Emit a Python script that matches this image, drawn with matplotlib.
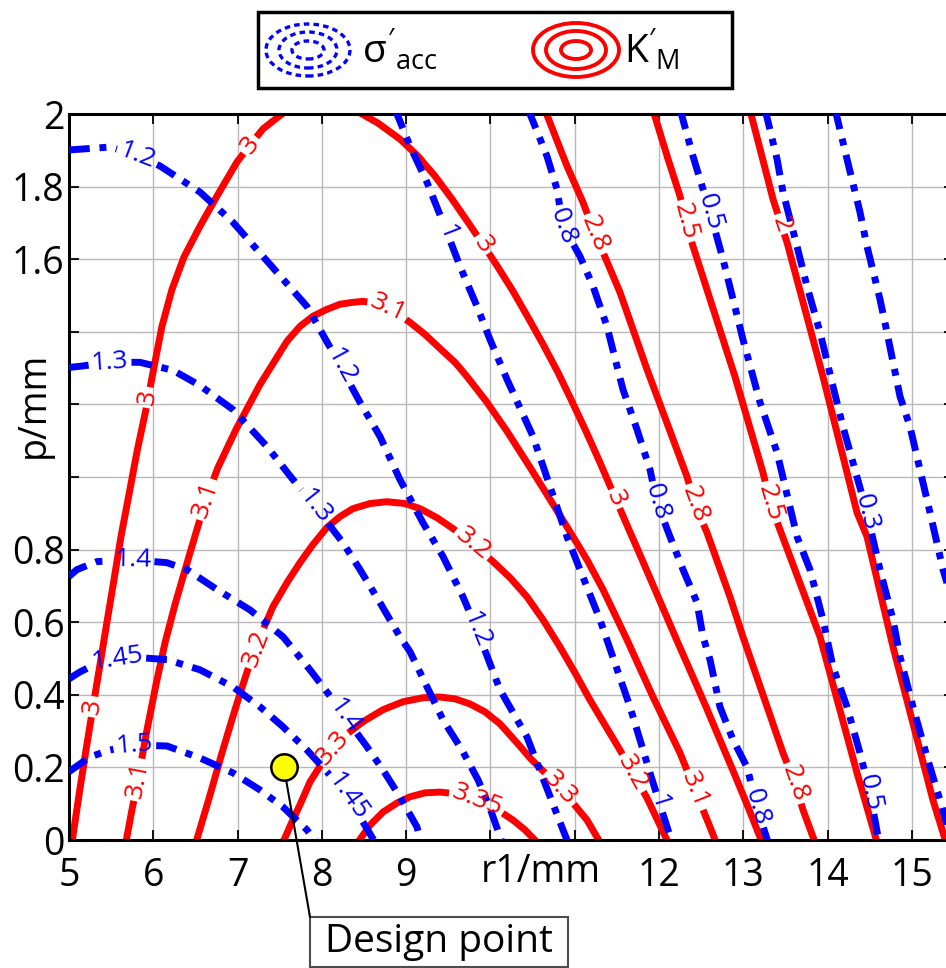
import numpy as np
import matplotlib
matplotlib.use('Agg')
import matplotlib.pyplot as plt
from matplotlib.contour import ContourSet
from matplotlib.patches import Ellipse, Rectangle, ConnectionPatch

plt.rcParams['font.family'] = ['Open Sans', 'DejaVu Sans']
plt.rcParams['mathtext.fontset'] = 'custom'
plt.rcParams['mathtext.rm'] = 'Open Sans'
plt.rcParams['mathtext.it'] = 'Open Sans'
plt.rcParams['lines.scale_dashes'] = False

# sigma'_acc contour lines, points (r1 [mm], p [mm])
sig_levels = [0.1, 0.3, 0.5, 0.8, 1.0, 1.2, 1.3, 1.4, 1.45, 1.5]
sig_010 = [(14.087, 2.014), (14.229, 1.876), (14.383, 1.730), (14.466, 1.636), (14.620, 1.490),
           (14.703, 1.399), (14.858, 1.222), (14.976, 1.139), (15.130, 0.985), (15.214, 0.902),
           (15.368, 0.745), (15.510, 0.634)]
sig_030 = [(13.256, 2.014), (13.399, 1.876), (13.470, 1.785), (13.636, 1.636), (13.754, 1.526),
           (13.909, 1.399), (14.063, 1.250), (14.181, 1.139), (14.300, 1.040), (14.466, 0.902),
           (14.620, 0.745), (14.775, 0.607), (14.858, 0.505), (15.012, 0.367), (15.178, 0.229),
           (15.332, 0.110), (15.475, -0.006)]
sig_050 = [(12.248, 2.014), (12.402, 1.884), (12.604, 1.730), (12.758, 1.600), (12.877, 1.490),
           (12.995, 1.379), (13.197, 1.206), (13.399, 1.068), (13.636, 0.836), (13.790, 0.745),
           (13.944, 0.607), (14.063, 0.477), (14.229, 0.367), (14.383, 0.240), (14.502, 0.130),
           (14.609, -0.006)]
sig_080 = [(10.445, 2.014), (10.670, 1.884), (10.789, 1.793), (10.860, 1.691), (11.062, 1.608),
           (11.216, 1.526), (11.382, 1.415), (11.501, 1.305), (11.572, 1.241), (11.738, 1.131),
           (11.892, 1.021), (11.975, 0.930), (12.129, 0.836), (12.284, 0.745), (12.450, 0.654),
           (12.521, 0.560), (12.604, 0.497), (12.722, 0.367), (12.877, 0.276), (13.043, 0.201),
           (13.161, 0.091), (13.292, -0.006)]
sig_100 = [(8.867, 2.014), (9.045, 1.912), (9.247, 1.812), (9.484, 1.674), (9.638, 1.581),
           (9.840, 1.470), (9.994, 1.379), (10.196, 1.269), (10.504, 1.112), (10.706, 0.974),
           (10.907, 0.836), (11.062, 0.745), (11.299, 0.607), (11.655, 0.367), (11.892, 0.185),
           (12.011, 0.097), (12.153, -0.006)]
sig_120 = [(5.0, 1.901), (5.486, 1.909), (5.807, 1.887), (6.079, 1.857), (6.554, 1.785),
           (6.945, 1.702), (7.467, 1.564), (7.823, 1.470), (8.132, 1.343), (8.452, 1.206),
           (8.689, 1.112), (8.926, 0.993), (9.199, 0.874), (9.437, 0.781), (9.674, 0.670),
           (9.840, 0.579), (10.113, 0.414), (10.433, 0.284), (10.860, 0.028), (10.919, -0.006)]
sig_130 = [(5.0, 1.302), (5.130, 1.305), (5.486, 1.316), (5.842, 1.316), (6.234, 1.294),
           (6.554, 1.252), (6.945, 1.186), (7.349, 1.084), (7.657, 0.993), (7.918, 0.919),
           (8.250, 0.819), (8.452, 0.745), (8.689, 0.654), (8.926, 0.560), (9.045, 0.519),
           (9.437, 0.331), (9.662, 0.248), (9.852, 0.166), (9.994, 0.088), (10.137, -0.006)]
sig_140 = [(5.0, 0.726), (5.095, 0.745), (5.332, 0.767), (5.759, 0.772), (6.163, 0.764),
           (6.400, 0.745), (6.756, 0.690), (7.147, 0.634), (7.539, 0.560), (7.859, 0.469),
           (8.132, 0.386), (8.274, 0.339), (8.535, 0.257), (8.725, 0.193), (8.926, 0.119),
           (9.128, 0.036), (9.176, -0.006)]
sig_145 = [(5.0, 0.444), (5.130, 0.463), (5.368, 0.491), (5.688, 0.505), (6.163, 0.497),
           (6.554, 0.469), (6.945, 0.422), (7.266, 0.367), (7.539, 0.312), (7.823, 0.248),
           (8.060, 0.188), (8.310, 0.119), (8.630, -0.006)]
sig_150 = [(5.0, 0.188), (5.249, 0.229), (5.486, 0.248), (5.783, 0.262), (6.163, 0.259),
           (6.554, 0.226), (6.945, 0.185), (7.266, 0.138), (7.539, 0.091), (7.823, 0.028),
           (7.930, -0.006)]
sig_label_pos = [(5.81, 1.885), (8.19, 1.30), (9.84, 0.579),
                 (5.486, 1.316), (7.918, 0.919),
                 (5.759, 0.772), (8.25, 0.339),
                 (5.58, 0.491), (8.31, 0.119),
                 (5.783, 0.257),
                 (9.484, 1.674), (12.094, 0.110),
                 (10.860, 1.691), (11.975, 0.930), (13.161, 0.091),
                 (12.604, 1.730), (14.502, 0.130),
                 (14.466, 0.902)]

# K'_M contour lines
km_levels = [2.0, 2.5, 2.8, 3.0, 3.1, 3.2, 3.3, 3.35]
km_200 = [(13.078, 2.011), (13.351, 1.766), (13.446, 1.697), (13.517, 1.647), (13.944, 1.277),
          (14.348, 0.902), (14.466, 0.836), (14.775, 0.532), (15.249, 0.110), (15.403, -0.006)]
km_250 = [(11.928, 2.011), (12.106, 1.876), (12.248, 1.774), (12.319, 1.705), (12.402, 1.636),
          (12.900, 1.277), (13.233, 1.012), (13.316, 0.930), (13.434, 0.855), (13.909, 0.560),
          (14.348, 0.185), (14.585, -0.006)]
km_280 = [(10.647, 2.011), (10.907, 1.857), (11.097, 1.757), (11.240, 1.669), (11.335, 1.619),
          (11.536, 1.509), (11.856, 1.297), (12.331, 1.001), (12.426, 0.924), (12.568, 0.847),
          (12.841, 0.670), (12.995, 0.560), (13.470, 0.240), (13.612, 0.157), (13.707, 0.083),
          (13.849, -0.006)]
km_300_left = [(5.036, -0.006), (5.119, 0.124), (5.202, 0.248), (5.285, 0.367), (5.368, 0.483),
               (5.451, 0.601), (5.534, 0.717), (5.617, 0.836), (5.712, 0.952), (5.807, 1.070),
               (5.913, 1.186), (6.008, 1.302), (6.103, 1.415), (6.222, 1.517), (6.364, 1.606),
               (6.554, 1.691), (6.756, 1.774), (6.993, 1.868), (7.147, 1.914), (7.301, 1.959),
               (7.586, 2.011)]
km_300_right = [(8.393, 2.011), (8.666, 1.975), (8.926, 1.931), (9.140, 1.884), (9.342, 1.829),
                (9.543, 1.766), (9.733, 1.702), (9.911, 1.641), (10.089, 1.578), (10.267, 1.512),
                (10.445, 1.440), (10.623, 1.366), (10.801, 1.288), (10.967, 1.208), (11.133, 1.126),
                (11.299, 1.040), (11.453, 0.957), (11.607, 0.874), (11.762, 0.792), (11.916, 0.709),
                (12.070, 0.626), (12.224, 0.543), (12.391, 0.455), (12.557, 0.367), (12.722, 0.276),
                (12.888, 0.185), (13.055, 0.091), (13.221, -0.006)]
km_310 = [(5.676, -0.006), (5.747, 0.083), (5.819, 0.166), (5.925, 0.303), (6.032, 0.428),
          (6.139, 0.543), (6.257, 0.648), (6.388, 0.753), (6.507, 0.847), (6.625, 0.938),
          (6.767, 1.026), (6.981, 1.131), (7.266, 1.255), (7.586, 1.374), (7.740, 1.415),
          (7.894, 1.443), (8.060, 1.462), (8.215, 1.476), (8.357, 1.481), (8.488, 1.484),
          (8.630, 1.479), (8.784, 1.466), (8.926, 1.446), (9.045, 1.426), (9.223, 1.393),
          (9.401, 1.354), (9.579, 1.316), (9.721, 1.277), (9.958, 1.206), (10.196, 1.126),
          (10.433, 1.040), (10.670, 0.952), (10.907, 0.863), (11.145, 0.772), (11.335, 0.690),
          (11.477, 0.621), (11.619, 0.552), (11.928, 0.394), (12.248, 0.240), (12.426, 0.138),
          (12.604, 0.036), (12.675, -0.006)]
km_320 = [(6.507, -0.006), (6.673, 0.124), (6.815, 0.240), (6.969, 0.359), (7.112, 0.463),
          (7.266, 0.560), (7.420, 0.643), (7.586, 0.709), (7.740, 0.764), (7.894, 0.814),
          (8.060, 0.861), (8.215, 0.891), (8.369, 0.913), (8.571, 0.927), (8.772, 0.932),
          (8.986, 0.927), (9.164, 0.913), (9.365, 0.888), (9.555, 0.858), (9.792, 0.817),
          (10.030, 0.767), (10.231, 0.723), (10.433, 0.670), (10.623, 0.607), (10.824, 0.532),
          (11.002, 0.461), (11.180, 0.386), (11.358, 0.317), (11.536, 0.248), (11.690, 0.185),
          (11.856, 0.116), (12.106, -0.006)]
km_330 = [(7.539, -0.006), (7.645, 0.050), (7.740, 0.097), (7.859, 0.160), (8.001, 0.212),
          (8.132, 0.254), (8.298, 0.292), (8.488, 0.326), (8.725, 0.359), (8.962, 0.381),
          (9.199, 0.392), (9.401, 0.394), (9.579, 0.389), (9.757, 0.375), (9.935, 0.353),
          (10.113, 0.320), (10.314, 0.268), (10.469, 0.226), (10.647, 0.185), (10.824, 0.143),
          (10.979, 0.102), (11.145, 0.055), (11.299, -0.006)]
km_335 = [(8.428, -0.006), (8.571, 0.041), (8.725, 0.077), (8.891, 0.102), (9.045, 0.119),
          (9.223, 0.130), (9.401, 0.132), (9.615, 0.127), (9.840, 0.110), (10.053, 0.088),
          (10.267, 0.055), (10.409, 0.028), (10.552, -0.006)]
km_label_pos = [(5.285, 0.367), (5.937, 1.219), (7.147, 1.914), (9.911, 1.641), (11.48, 0.94),
                (5.819, 0.166), (6.625, 0.938), (8.784, 1.466), (12.426, 0.138),
                (7.206, 0.530), (9.792, 0.817), (11.690, 0.185),
                (8.132, 0.254), (10.824, 0.143),
                (9.840, 0.110),
                (11.240, 1.669), (12.426, 0.924), (13.612, 0.157),
                (12.319, 1.705), (13.316, 0.930),
                (13.446, 1.697)]

design_r1 = 7.55
design_p = 0.2

xticks = [5, 6, 7, 8, 9, 10, 11, 12, 13, 14, 15]
xtick_labels = ['5', '6', '7', '8', '9', '', '', '12', '13', '14', '15']
yticks = [0, 0.2, 0.4, 0.6, 0.8, 1.0, 1.2, 1.4, 1.6, 1.8, 2.0]
ytick_labels = ['0', '0.2', '0.4', '0.6', '0.8', '', '', '', '1.6', '1.8', '2']

fig = plt.figure(figsize=(9.46, 9.68), dpi=100)
ax = fig.add_axes([0.0729, 0.1322, 0.9357, 0.750])
ax.set_xlim(5, 15.5)
ax.set_ylim(0, 2)
ax.set_xticks(xticks)
ax.set_xticklabels(xtick_labels)
ax.set_yticks(yticks)
ax.set_yticklabels(ytick_labels)
ax.grid(True, color='0.72', lw=1.0)
ax.set_axisbelow(True)
ax.tick_params(direction='in', length=7, width=1.3, top=True, right=True, labelsize=27)
ax.tick_params(axis='x', pad=12)
ax.tick_params(axis='y', pad=3)
for s in ax.spines.values():
    s.set_linewidth(2.2)

km_segs = [[np.array(km_200)], [np.array(km_250)], [np.array(km_280)],
           [np.array(km_300_left), np.array(km_300_right)], [np.array(km_310)],
           [np.array(km_320)], [np.array(km_330)], [np.array(km_335)]]
cs_km = ContourSet(ax, np.array(km_levels), km_segs, colors='red', linewidths=5, zorder=2)
cs_km.set_joinstyle('round')

sig_segs = [[np.array(s)] for s in [sig_010, sig_030, sig_050, sig_080, sig_100,
                                    sig_120, sig_130, sig_140, sig_145, sig_150]]
cs_sig = ContourSet(ax, np.array(sig_levels), sig_segs, colors='blue', linewidths=5, zorder=3)
cs_sig.set_linestyle((0, (15, 7, 5, 7)))

ax.clabel(cs_km, inline=True, fmt='%g', fontsize=19, manual=km_label_pos, inline_spacing=3)
ax.clabel(cs_sig, inline=True, fmt='%g', fontsize=19, manual=sig_label_pos, inline_spacing=3)

ax.text(10.6, -0.044, 'r1/mm', transform=ax.get_xaxis_transform(), ha='center', va='center',
        fontsize=27)
ax.text(-0.04, 1.2, 'p/mm', transform=ax.get_yaxis_transform(), ha='center', va='center',
        rotation=90, fontsize=27)

# design point with its callout box
ax.plot([design_r1], [design_p], 'o', ms=19, mfc='yellow', mec='black', mew=1.8, zorder=5)
box_x0, box_y0, box_w, box_h = 310 / 946, 1 / 968, 258 / 946, 50 / 968
fig.patches.append(Rectangle((box_x0, box_y0), box_w, box_h, transform=fig.transFigure,
                             fc='white', ec='0.3', lw=1.5))
fig.text(box_x0 + box_w / 2, box_y0 + box_h / 2, 'Design point', ha='center', va='center',
         fontsize=28)
leader = ConnectionPatch(xyA=(design_r1, design_p), coordsA='data', axesA=ax,
                         xyB=(box_x0, box_y0 + box_h), coordsB='figure fraction',
                         color='black', lw=1.5, shrinkA=9.5, shrinkB=0, zorder=6)
fig.add_artist(leader)

# legend box
lg = fig.add_axes([0.2727, 0.9091, 0.5011, 0.0785])
lg.set_xlim(0, 474)
lg.set_ylim(0, 76)
lg.axis('off')
lg.add_patch(Rectangle((0, 0), 474, 76, fill=False, lw=2.5, ec='black', clip_on=False))
for w, h in [(84, 52), (58, 36), (32, 18)]:
    lg.add_patch(Ellipse((50, 38), w, h, fill=False, ec='blue', lw=2.4, ls=(0, (4, 3))))
for w, h in [(86, 54), (60, 38), (30, 18)]:
    lg.add_patch(Ellipse((318, 38), w, h, fill=False, ec='red', lw=2.8))
lg.text(104, 38, r"$\sigma'_{\mathrm{acc}}$", fontsize=28, va='center', ha='left')
lg.text(366, 38, r"$\mathrm{K}'_{\mathrm{M}}$", fontsize=28, va='center', ha='left')

fig.savefig('out.png', dpi=100)
